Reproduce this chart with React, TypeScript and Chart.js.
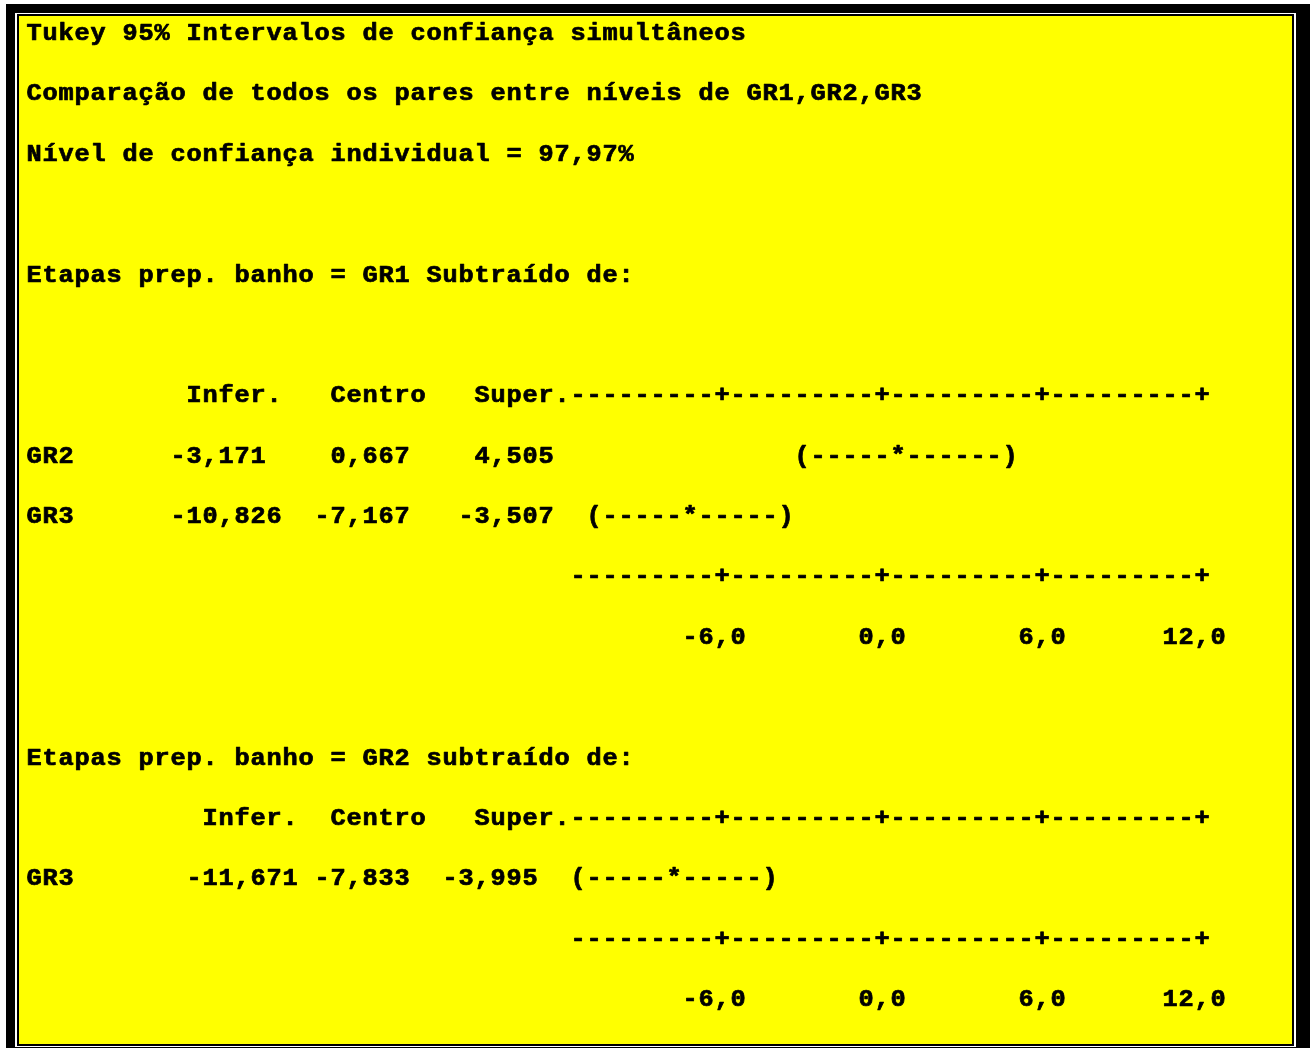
import { useEffect, useRef } from "react";
import { Chart, registerables } from "chart.js";

Chart.register(...registerables);

const W = 1310;
const H = 1048;

// ---- text content ----
const titleLines = [
  "Tukey 95% Intervalos de confiança simultâneos",
  "Comparação de todos os pares entre níveis de GR1,GR2,GR3",
  "Nível de confiança individual = 97,97%",
];
const section1Title = "Etapas prep. banho = GR1 Subtraído de:";
const section2Title = "Etapas prep. banho = GR2 subtraído de:";
const columnHeads = ["Infer.", "Centro", "Super."];

// ---- interval data ----
const section1Groups = ["GR2", "GR3"];
const section1Lower = [-3.171, -10.826];
const section1Center = [0.667, -7.167];
const section1Upper = [4.505, -3.507];

const section2Groups = ["GR3"];
const section2Lower = [-11.671];
const section2Center = [-7.833];
const section2Upper = [-3.995];

// ---- axis ----
const tickValues = [-6, 0, 6, 12];
const tickLabels = ["-6,0", "0,0", "6,0", "12,0"];

// ---- character grid layout ----
const CELL = 16; // px per character column
const LEFT = 26; // px of column 0's left edge
const ROW0 = 32; // px of row 0's centre
const ROW_H = 60.375; // px per text row
const UNITS_PER_COL = 0.6; // axis units per character column
const ZERO_COL = 53; // column holding the "+" for 0
const SEG_DASHES = 9; // dashes between "+" marks

const COL_MIN = -LEFT / CELL;
const COL_MAX = (W - LEFT) / CELL;
const ROW_MIN = -ROW0 / ROW_H;
const ROW_MAX = (H - ROW0) / ROW_H;

// table layout: column where each header word starts, and where each number ends
const section1HeadCols = [10, 19, 28];
const section2HeadCols = [11, 19, 28];
const section1NumEnds = [
  [14, 23, 32],
  [15, 23, 32],
];
const section2NumEnds = [[16, 23, 31]];
const INTERVAL_ROWS_1 = [7, 8];
const INTERVAL_ROWS_2 = [14];

const FONT = 'bold 23px "Liberation Mono", "Courier New", monospace';
const GLYPH_STRETCH = 1.1;

const fmt = (v: number) => v.toFixed(3).replace(".", ",");

const asciiPlugin = {
  id: "asciiReport",
  beforeDraw(chart: any) {
    const ctx = chart.ctx as CanvasRenderingContext2D;
    ctx.save();
    ctx.fillStyle = "#ffffff";
    ctx.fillRect(0, 0, W, H);
    ctx.fillStyle = "#000000";
    ctx.fillRect(6, 4, W - 6, H - 4);
    ctx.fillStyle = "#ffffff";
    ctx.fillRect(15, 13, 1296 - 15, 1047 - 13);
    ctx.fillStyle = "#000000";
    ctx.fillRect(17, 14, 1294 - 17, 1046 - 14);
    ctx.fillStyle = "#ffff00";
    ctx.fillRect(19, 16, 1292 - 19, 1044 - 16);
    ctx.restore();
  },
  afterDraw(chart: any) {
    const ctx = chart.ctx as CanvasRenderingContext2D;
    const colScale = chart.scales.col;
    const rowScale = chart.scales.row;
    const diffScale = chart.scales.diff;

    ctx.save();
    ctx.font = FONT;
    ctx.fillStyle = "#000000";
    ctx.strokeStyle = "#000000";
    ctx.lineWidth = 0.7;
    ctx.lineJoin = "round";
    ctx.textAlign = "center";
    ctx.textBaseline = "alphabetic";
    const capH = ctx.measureText("H").actualBoundingBoxAscent;

    const putChar = (ch: string, col: number, row: number) => {
      if (ch === " ") return;
      const x = colScale.getPixelForValue(col + 0.5);
      const y = rowScale.getPixelForValue(row) + capH / 2;
      ctx.save();
      ctx.translate(x, y);
      ctx.scale(GLYPH_STRETCH, 1);
      ctx.fillText(ch, 0, 0);
      ctx.strokeText(ch, 0, 0);
      ctx.restore();
    };
    const putText = (text: string, col: number, row: number) => {
      Array.from(text).forEach((ch, i) => putChar(ch, col + i, row));
    };
    const putRight = (text: string, endCol: number, row: number) => {
      putText(text, endCol - text.length + 1, row);
    };
    // character column at which an axis value falls
    const cellOf = (v: number) =>
      Math.round(colScale.getValueForPixel(diffScale.getPixelForValue(v)) - 0.5);

    const plusCols = tickValues.map(cellOf);
    const axisStart = plusCols[0] - SEG_DASHES;
    const axisEnd = plusCols[plusCols.length - 1];

    const drawAxisLine = (row: number) => {
      for (let c = axisStart; c <= axisEnd; c++) {
        putChar(plusCols.includes(c) ? "+" : "-", c, row);
      }
    };
    const drawTickLabels = (row: number) => {
      tickLabels.forEach((lab, i) => {
        const comma = lab.indexOf(",");
        putText(lab, plusCols[i] - comma, row);
      });
    };
    const drawInterval = (lo: number, mid: number, hi: number, row: number) => {
      const a = cellOf(lo);
      const m = cellOf(mid);
      const b = cellOf(hi);
      for (let c = a; c <= b; c++) {
        putChar(c === a ? "(" : c === b ? ")" : c === m ? "*" : "-", c, row);
      }
    };
    const drawSection = (
      title: string,
      titleRow: number,
      headRow: number,
      headCols: number[],
      groups: string[],
      lower: number[],
      center: number[],
      upper: number[],
      numEnds: number[][],
      rows: number[],
      axisRow: number,
      labelRow: number
    ) => {
      putText(title, 0, titleRow);
      columnHeads.forEach((h, i) => putText(h, headCols[i], headRow));
      drawAxisLine(headRow);
      groups.forEach((g, i) => {
        const r = rows[i];
        putText(g, 0, r);
        putRight(fmt(lower[i]), numEnds[i][0], r);
        putRight(fmt(center[i]), numEnds[i][1], r);
        putRight(fmt(upper[i]), numEnds[i][2], r);
        drawInterval(lower[i], center[i], upper[i], r);
      });
      drawAxisLine(axisRow);
      drawTickLabels(labelRow);
    };

    titleLines.forEach((t, i) => putText(t, 0, i));
    drawSection(
      section1Title, 4, 6, section1HeadCols,
      section1Groups, section1Lower, section1Center, section1Upper,
      section1NumEnds, INTERVAL_ROWS_1, 9, 10
    );
    drawSection(
      section2Title, 12, 13, section2HeadCols,
      section2Groups, section2Lower, section2Center, section2Upper,
      section2NumEnds, INTERVAL_ROWS_2, 15, 16
    );
    ctx.restore();
  },
};

export default function App() {
  const canvasRef = useRef<HTMLCanvasElement | null>(null);

  useEffect(() => {
    const canvas = canvasRef.current;
    if (!canvas) return;
    const diffMin = (COL_MIN - (ZERO_COL + 0.5)) * UNITS_PER_COL;
    const diffMax = (COL_MAX - (ZERO_COL + 0.5)) * UNITS_PER_COL;

    const chart = new Chart(canvas, {
      type: "scatter",
      data: {
        datasets: [
          {
            label: "GR1",
            data: section1Center.map((c, i) => ({ x: c, y: INTERVAL_ROWS_1[i] })),
            xAxisID: "diff",
            yAxisID: "row",
            pointRadius: 0,
          },
          {
            label: "GR2",
            data: section2Center.map((c, i) => ({ x: c, y: INTERVAL_ROWS_2[i] })),
            xAxisID: "diff",
            yAxisID: "row",
            pointRadius: 0,
          },
        ],
      },
      options: {
        responsive: false,
        animation: false,
        devicePixelRatio: 1,
        events: [],
        layout: { padding: 0 },
        plugins: {
          legend: { display: false },
          tooltip: { enabled: false },
        },
        scales: {
          col: { type: "linear", axis: "x", display: false, min: COL_MIN, max: COL_MAX },
          diff: { type: "linear", axis: "x", display: false, min: diffMin, max: diffMax },
          row: {
            type: "linear",
            axis: "y",
            display: false,
            reverse: true,
            min: ROW_MIN,
            max: ROW_MAX,
          },
        },
      },
      plugins: [asciiPlugin],
    });
    return () => chart.destroy();
  }, []);

  return (
    <div style={{ position: "absolute", left: 0, top: 0, width: W, height: H }}>
      <canvas ref={canvasRef} width={W} height={H} style={{ display: "block" }} />
    </div>
  );
}
